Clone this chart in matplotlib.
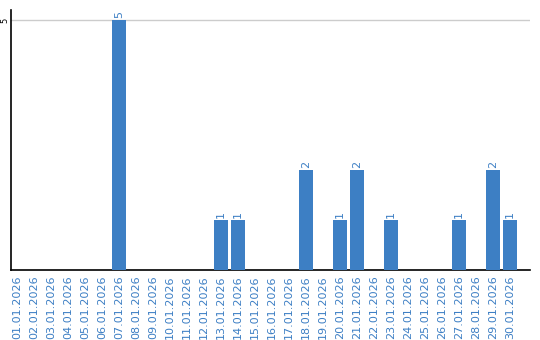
import matplotlib
matplotlib.use("Agg")
import matplotlib.pyplot as plt
import numpy as np

dates = [f"{d:02d}.01.2026" for d in range(1, 31)]
counts = [0, 0, 0, 0, 0, 0, 5, 0, 0, 0, 0, 0, 1, 1, 0,
          0, 0, 2, 0, 1, 2, 0, 1, 0, 0, 0, 1, 0, 2, 1]

BLUE = "#3d7fc4"

fig = plt.figure(figsize=(5.4, 3.4), dpi=100)
ax = fig.add_axes([11 / 540, 70 / 340, (530 - 11) / 540, 260 / 340])

x = np.arange(len(dates))
bars = ax.bar(x, counts, width=0.82, color=BLUE, zorder=3)

for xi, c in zip(x, counts):
    if c > 0:
        ax.text(xi, c + 0.04, str(c), rotation=90, ha="center", va="bottom",
                fontsize=8, color=BLUE, zorder=4)

ax.set_xlim(-0.38, 30.18)
ax.set_ylim(0, 5.2)
ax.set_yticks([5])
ax.set_yticklabels(["5"], rotation=90, va="center", fontsize=6)
ax.tick_params(axis="y", length=0, pad=1.5)
ax.yaxis.grid(True, color="#cccccc", linewidth=1, zorder=0)

ax.set_xticks(x)
ax.set_xticklabels(dates, rotation=90, fontsize=8, color=BLUE)
ax.tick_params(axis="x", length=0, pad=4)

ax.spines["top"].set_visible(False)
ax.spines["right"].set_visible(False)
ax.spines["left"].set_linewidth(1.2)
ax.spines["bottom"].set_linewidth(1.2)

fig.savefig("out.png", dpi=100)
